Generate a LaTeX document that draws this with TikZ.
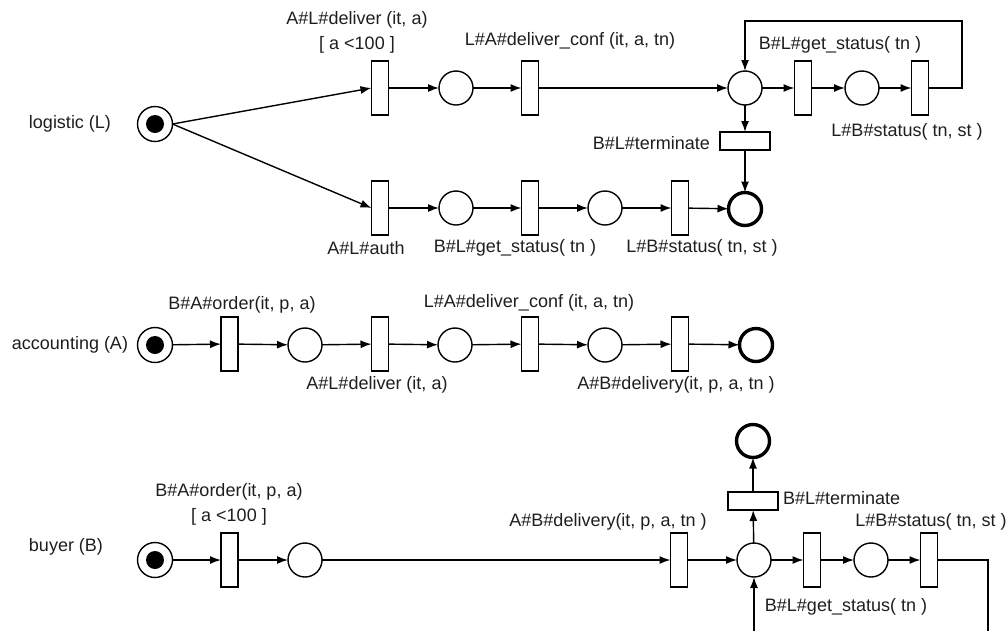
\documentclass[tikz,border=0pt]{standalone}
\usepackage{fontspec}
\setmainfont{Liberation Sans}
\usetikzlibrary{arrows.meta}
\definecolor{ink}{HTML}{1E1E1E}
\begin{document}
\begin{tikzpicture}[x=1pt,y=-1pt,
  every node/.style={inner sep=0pt,outer sep=0pt},
  lbl/.style={font=\fontsize{18}{25}\selectfont,text=ink,align=center},
  place/.style={circle,draw,line width=1.4pt,minimum size=34pt},
  endplace/.style={circle,draw,line width=3.4pt,minimum size=33pt},
  startplace/.style={circle,draw,line width=1.4pt,minimum size=35pt},
  trans/.style={rectangle,draw,line width=1.4pt,minimum width=17pt,minimum height=54pt},
  htrans/.style={rectangle,draw,line width=1.4pt,minimum width=50pt,minimum height=18pt},
  arc/.style={line width=1.4pt,-{Latex[length=11pt,width=8pt]}}]
\useasboundingbox (0,0) rectangle (1008,630);
\clip (0,0) rectangle (1008,630);

% ---------------- logistic (L) ----------------
\node[lbl] (nameL) at (70,124) {logistic (L)};
\node[startplace] (L0) at (155,124) {};
\fill (L0.center) circle (9pt);
\node[trans] (L1) at (380,88) {};
\node[place] (L2) at (456,88) {};
\node[trans] (L3) at (530,88) {};
\node[place] (L4) at (745,88) {};
\node[trans] (L5) at (803,88) {};
\node[place] (L6) at (862,88) {};
\node[trans] (L7) at (920,88) {};
\node[htrans] (L8) at (745,141) {};
\node[endplace] (L9) at (745,209) {};
\node[trans] (L10) at (380,208) {};
\node[place] (L11) at (456,208) {};
\node[trans] (L12) at (530,208) {};
\node[place] (L13) at (605,208) {};
\node[trans] (L14) at (680,208) {};
\coordinate (Lr) at (962,88);
\coordinate (Lt) at (962,21);
\coordinate (Ll) at (745,21);

\draw[arc] (L0.east) -- (L1.west);
\draw[arc] (L0.east) -- (L10.west);
\draw[arc] (L1) -- (L2);
\draw[arc] (L2) -- (L3);
\draw[arc] (L3) -- (L4);
\draw[arc] (L4) -- (L5);
\draw[arc] (L5) -- (L6);
\draw[arc] (L6) -- (L7);
\draw[arc] (L7.east) -- (Lr) -- (Lt) -- (Ll) -- (L4.north);
\draw[arc] (L4) -- (L8);
\draw[arc] (L8) -- (L9);
\draw[arc] (L10) -- (L11);
\draw[arc] (L11) -- (L12);
\draw[arc] (L12) -- (L13);
\draw[arc] (L13) -- (L14);
\draw[arc] (L14) -- (L9);

\node[lbl] (tL1) at (357,32) {A\#L\#deliver (it, a)\\{}[ a <100 ]};
\node[lbl] (tL3) at (570,41) {L\#A\#deliver\_conf (it, a, tn)};
\node[lbl] (tL5) at (840,45) {B\#L\#get\_status( tn )};
\node[lbl] (tL7) at (907,132) {L\#B\#status( tn, st )};
\node[lbl,anchor=east] (tL8) at (710,143) {B\#L\#terminate};
\node[lbl] (tL10) at (366,248) {A\#L\#auth};
\node[lbl] (tL12) at (515,248) {B\#L\#get\_status( tn )};
\node[lbl] (tL14) at (702,248) {L\#B\#status( tn, st )};

% ---------------- accounting (A) ----------------
\node[lbl] (nameA) at (70,345) {accounting (A)};
\node[startplace] (A0) at (155,345) {};
\fill (A0.center) circle (9pt);
\node[trans] (A1) at (229.5,344) {};
\node[place] (A2) at (305,345) {};
\node[trans] (A3) at (380,344) {};
\node[place] (A4) at (455,345) {};
\node[trans] (A5) at (530,344) {};
\node[place] (A6) at (605,345) {};
\node[trans] (A7) at (680,344) {};
\node[endplace] (A8) at (756,345) {};

\draw[arc] (A0) -- (A1);
\draw[arc] (A1) -- (A2);
\draw[arc] (A2) -- (A3);
\draw[arc] (A3) -- (A4);
\draw[arc] (A4) -- (A5);
\draw[arc] (A5) -- (A6);
\draw[arc] (A6) -- (A7);
\draw[arc] (A7) -- (A8);

\node[lbl] (tA1) at (242,305) {B\#A\#order(it, p, a)};
\node[lbl] (tA3) at (377,385) {A\#L\#deliver (it, a)};
\node[lbl] (tA5) at (529,303) {L\#A\#deliver\_conf (it, a, tn)};
\node[lbl] (tA7) at (676,385) {A\#B\#delivery(it, p, a, tn )};

% ---------------- buyer (B) ----------------
\node[lbl] (nameB) at (66,547) {buyer (B)};
\node[startplace] (B0) at (155,560) {};
\fill (B0.center) circle (9pt);
\node[trans] (B1) at (229.5,560) {};
\node[place] (B2) at (305,560) {};
\node[trans] (B3) at (679,560) {};
\node[place] (B4) at (754,560) {};
\node[trans] (B5) at (812,560) {};
\node[place] (B6) at (871,560) {};
\node[trans] (B7) at (929,560) {};
\node[htrans] (B8) at (753,501) {};
\node[endplace] (B9) at (753,441) {};
\coordinate (Br) at (988,560);
\coordinate (Bd) at (988,660);
\coordinate (Bl) at (754,660);

\draw[arc] (B0) -- (B1);
\draw[arc] (B1) -- (B2);
\draw[arc] (B2) -- (B3);
\draw[arc] (B3) -- (B4);
\draw[arc] (B4) -- (B5);
\draw[arc] (B5) -- (B6);
\draw[arc] (B6) -- (B7);
\draw[arc] (B4) -- (B8);
\draw[arc] (B8) -- (B9);
\draw[arc] (B7.east) -- (Br) -- (Bd) -- (Bl) -- (B4.south);

\node[lbl] (tB1) at (229,504) {B\#A\#order(it, p, a)\\{}[ a <100 ]};
\node[lbl] (tB3) at (608,522) {A\#B\#delivery(it, p, a, tn )};
\node[lbl,anchor=west] (tB8) at (783,498) {B\#L\#terminate};
\node[lbl] (tB7) at (931,522) {L\#B\#status( tn, st )};
\node[lbl] (tB5) at (846,607) {B\#L\#get\_status( tn )};
\end{tikzpicture}
\end{document}
